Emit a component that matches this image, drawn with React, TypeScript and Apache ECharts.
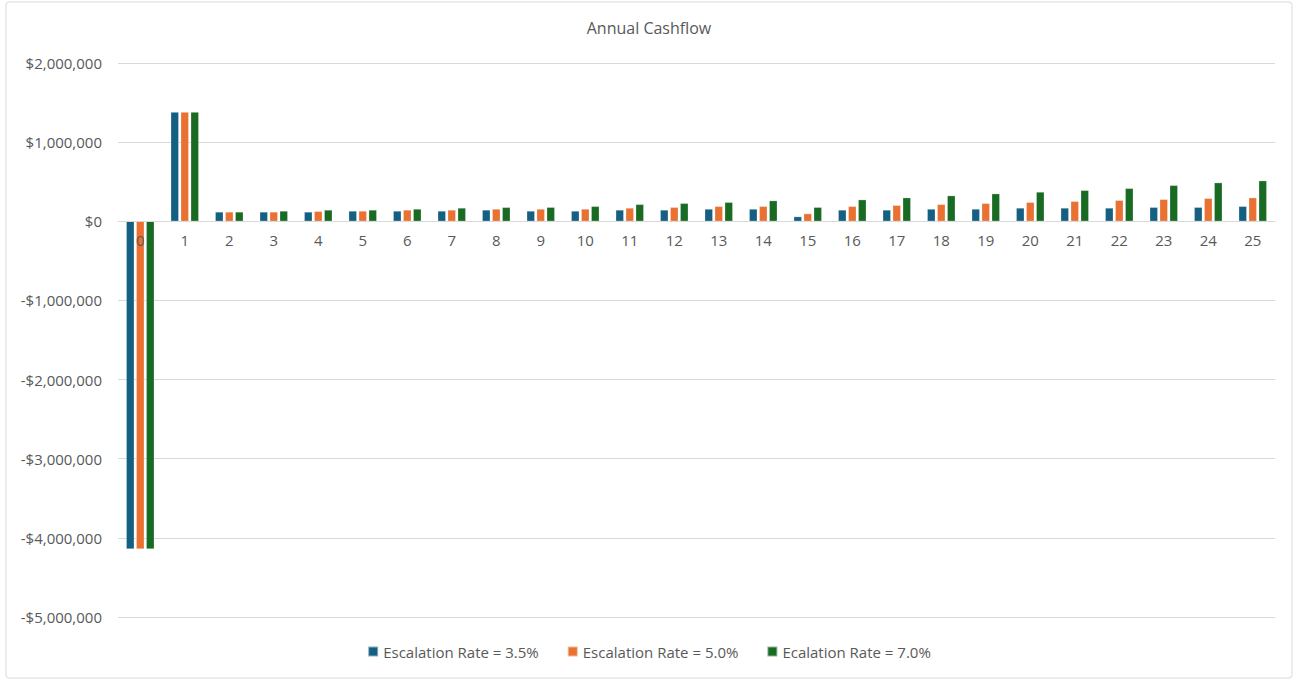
import React, { useEffect, useRef } from "react";
import * as echarts from "echarts";

const years = Array.from({ length: 26 }, (_, i) => String(i));
const seriesNames = ["Escalation Rate = 3.5%", "Escalation Rate = 5.0%", "Ecalation Rate = 7.0%"];
const rate35 = [-4140000, 1380000, 118000, 118000, 118000, 130000, 130000, 130000, 143000, 130000, 130000, 143000, 143000, 155000, 155000, 59000, 143000, 143000, 155000, 155000, 168000, 168000, 168000, 177000, 177000, 189000];
const rate50 = [-4140000, 1380000, 118000, 118000, 126000, 130000, 143000, 143000, 155000, 155000, 155000, 168000, 177000, 189000, 189000, 97000, 189000, 202000, 214000, 227000, 240000, 252000, 265000, 277000, 290000, 298000];
const rate70 = [-4140000, 1380000, 118000, 130000, 143000, 143000, 155000, 168000, 176000, 177000, 189000, 214000, 227000, 240000, 261000, 177000, 273000, 298000, 324000, 349000, 370000, 391000, 416000, 454000, 488000, 513000];
const colors = ["#156082", "#E97132", "#196B24"];

const yMin = -5000000;
const yMax = 2000000;

const fmt = (v: number) => {
  const s = Math.abs(v).toLocaleString("en-US");
  return (v < 0 ? "-$" : "$") + s;
};

export default function App() {
  const ref = useRef<HTMLDivElement>(null);
  useEffect(() => {
    if (!ref.current) return;
    const chart = echarts.init(ref.current, undefined, { renderer: "svg" });
    const font = "Open Sans, Liberation Sans, sans-serif";
    const data = [rate35, rate50, rate70];
    const gridTop = 63;
    const gridBottom = 64;
    const plotH = 681 - gridTop - gridBottom;
    const zeroOffset = -Math.round((plotH * (0 - yMin)) / (yMax - yMin));
    chart.setOption({
      animation: false,
      textStyle: { fontFamily: font },
      title: {
        text: "Annual Cashflow",
        left: "center",
        top: 15,
        textStyle: { fontSize: 16, fontWeight: "normal", color: "#595959", fontFamily: font },
      },
      graphic: [
        {
          type: "rect",
          shape: { x: 6, y: 2, width: 1286, height: 676, r: 3 },
          style: { fill: "none", stroke: "#d9d9d9", lineWidth: 1 },
          silent: true,
        },
      ],
      legend: {
        bottom: 17,
        left: "center",
        itemWidth: 10,
        itemHeight: 10,
        itemGap: 28,
        icon: "rect",
        textStyle: { fontSize: 15, color: "#595959", fontFamily: font },
        data: seriesNames,
      },
      grid: { left: 118, right: 23, top: gridTop, bottom: gridBottom, containLabel: false },
      xAxis: {
        type: "category",
        data: years,
        position: "bottom",
        offset: zeroOffset,
        z: 10,
        axisLine: { onZero: false, lineStyle: { color: "#d9d9d9", width: 1 } },
        axisTick: { show: false },
        axisLabel: {
          color: "#595959",
          fontSize: 15,
          margin: 11,
          interval: 0,
          showMinLabel: true,
          showMaxLabel: true,
          hideOverlap: false,
        },
      },
      yAxis: {
        type: "value",
        min: yMin,
        max: yMax,
        interval: 1000000,
        axisLine: { show: false },
        axisTick: { show: false },
        splitLine: { lineStyle: { color: "#d9d9d9", width: 1 } },
        axisLabel: { color: "#595959", fontSize: 15, margin: 16, formatter: fmt },
      },
      series: seriesNames.map((name, i) => ({
        name,
        type: "bar",
        data: data[i],
        barWidth: 8,
        barGap: "25%",
        z: 2,
        itemStyle: { color: colors[i], borderColor: "rgba(255,255,255,0.5)", borderWidth: 0.5 },
      })),
    });
    return () => chart.dispose();
  }, []);
  return (
    <div
      ref={ref}
      style={{ position: "absolute", left: 0, top: 0, width: 1298, height: 681, background: "#fff" }}
    />
  );
}
